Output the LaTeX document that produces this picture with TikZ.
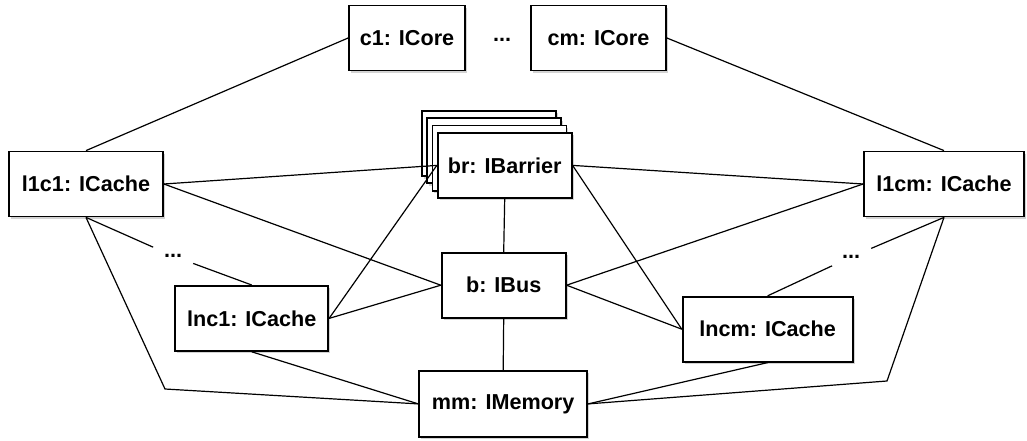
\documentclass[tikz,border=0pt]{standalone}
\usepackage{fontspec}
\setmainfont{Liberation Sans}
\usetikzlibrary{shadows}

\begin{document}
\begin{tikzpicture}[x=1pt,y=-1pt,
        box/.style={draw,fill=white,line width=1.8pt,inner sep=0pt,
            minimum height=65pt,font=\fontsize{21.6}{26}\selectfont\bfseries,
            drop shadow={shadow xshift=2pt,shadow yshift=-2.5pt,opacity=0.35}},
        ellip/.style={inner xsep=11pt,inner ysep=7pt,
            font=\fontsize{21.6}{26}\selectfont\bfseries},
        link/.style={line width=1.2pt}]
    \useasboundingbox (0,0) rectangle (1027,441);

    % cores
    \node[box,minimum width=116pt] (c1) at (407,38) {c1: ICore};
    \node[ellip] (dtop) at (502,40) {...};
    \node[box,minimum width=135pt] (cm) at (598.5,38) {cm: ICore};

    % caches
    \node[box,minimum width=154pt] (l1c1) at (86,184) {l1c1: ICache};
    \node[box,minimum width=160pt] (l1cm) at (944,184) {l1cm: ICache};
    \node[box,minimum width=153pt] (lnc1) at (251.7,318.4) {lnc1: ICache};
    \node[box,minimum width=170pt] (lncm) at (767.7,329.2) {lncm: ICache};
    \node[ellip] (dl) at (173,256) {...};
    \node[ellip] (dr) at (851,257) {...};

    % barrier, drawn as a stack
    \foreach \k in {3,2,1}
        \node[box,minimum width=134pt] (brb\k) at ({504.7-5.3*\k},{165.4-7.3*\k}) {};
    \node[box,minimum width=134pt] (br) at (504.7,165.4) {br: IBarrier};

    \node[box,minimum width=124pt] (b) at (503.7,285.2) {b: IBus};
    \node[box,minimum width=168pt,minimum height=66pt] (mm) at (503.2,403.9) {mm: IMemory};

    \coordinate (bl) at (165,389);
    \coordinate (bR) at (887,381);

    \draw[link] (c1.west) -- (l1c1.north);
    \draw[link] (cm.east) -- (l1cm.north);
    \draw[link] (l1c1.east) -- (br.west);
    \draw[link] (l1c1.east) -- (b.west);
    \draw[link] (lnc1.east) -- (br.west);
    \draw[link] (lnc1.east) -- (b.west);
    \draw[link] (br.south) -- (b.north);
    \draw[link] (b.south) -- (mm.north);
    \draw[link] (br.east) -- (l1cm.west);
    \draw[link] (br.east) -- (lncm.west);
    \draw[link] (b.east) -- (l1cm.west);
    \draw[link] (b.east) -- (lncm.west);
    \draw[link] (lnc1.south) -- (mm.west);
    \draw[link] (lncm.south) -- (mm.east);
    \draw[link] (l1c1.south) -- (bl) -- (mm.west);
    \draw[link] (l1cm.south) -- (bR) -- (mm.east);
    \draw[link] (l1c1.south) -- (dl) -- (lnc1.north);
    \draw[link] (l1cm.south) -- (dr) -- (lncm.north);
\end{tikzpicture}
\end{document}
